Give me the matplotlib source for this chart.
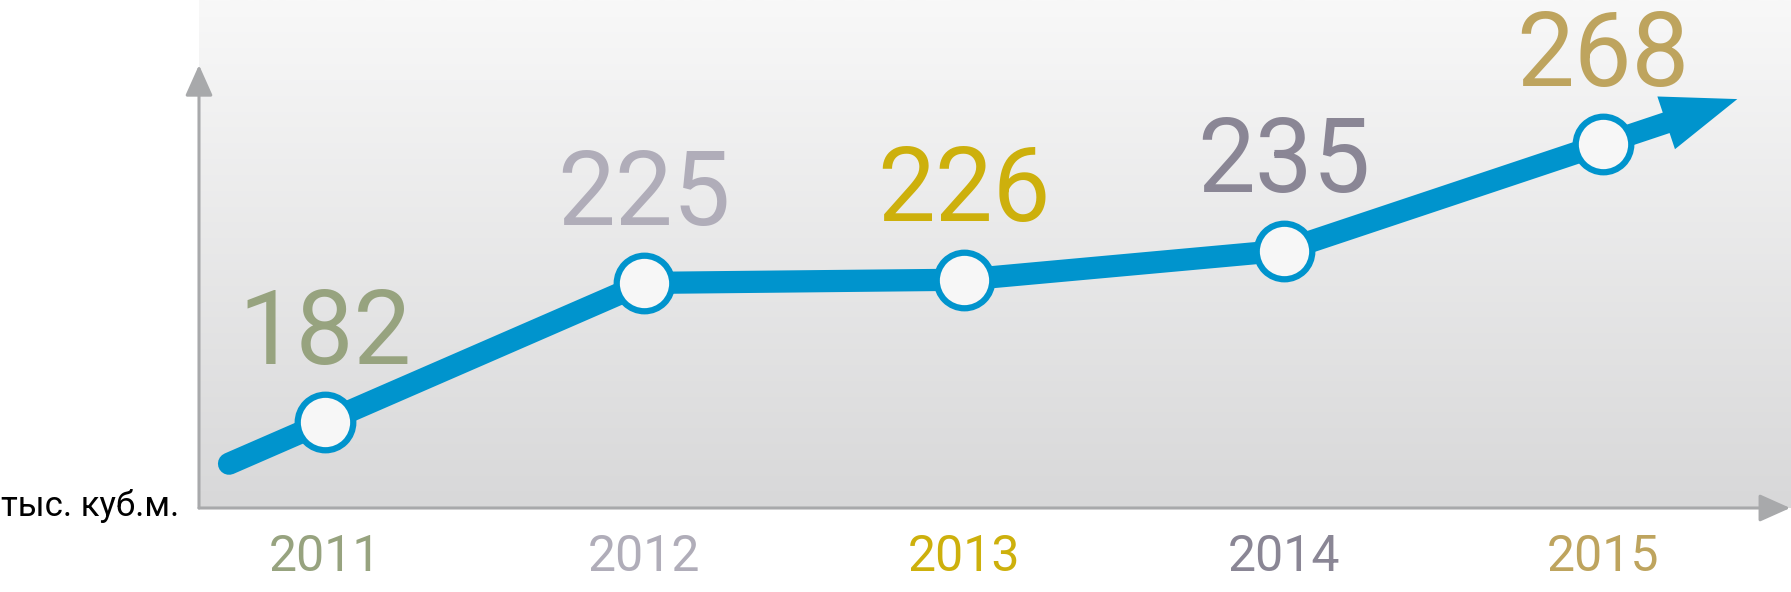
import numpy as np
import matplotlib
matplotlib.use('Agg')
import matplotlib.pyplot as plt
from matplotlib.colors import LinearSegmentedColormap
from matplotlib.patches import FancyArrowPatch

years = [2011, 2012, 2013, 2014, 2015]
volumes = [182, 225, 226, 235, 268]
year_labels = ['2011', '2012', '2013', '2014', '2015']
unit_label = 'тыс. куб.м.'

label_colors = ['#97a37f', '#b0adb9', '#cdb00c', '#8a8695', '#bea45e']
BLUE = '#0094cd'
AXIS_GRAY = '#a8a9ab'

plt.rcParams['font.family'] = ['Roboto', 'DejaVu Sans']

W, H, DPI = 1791, 592, 100
fig = plt.figure(figsize=(W / DPI, H / DPI), dpi=DPI)
fig.patch.set_facecolor('white')

# plot panel: from the y axis to the right edge, top of figure down to the x axis
ax = fig.add_axes([199 / W, 84 / H, 1592 / W, 508 / H])
for s in ax.spines.values():
    s.set_visible(False)

# soft grey gradient behind the chart
grad = np.linspace(0, 1, 256).reshape(-1, 1)
cmap = LinearSegmentedColormap.from_list('bg', ['#d8d8d9', '#f8f8f8'])
ax.imshow(grad, extent=[0, 1, 0, 1], transform=ax.transAxes, origin='lower',
          aspect='auto', cmap=cmap, zorder=0)

# line with a short lead-in before the first year
lead = 0.3
x0 = years[0] - lead
y0 = volumes[0] - lead * (volumes[1] - volumes[0])
ax.plot([x0] + years, [y0] + volumes, color=BLUE, lw=16,
        solid_capstyle='round', solid_joinstyle='round', zorder=3)

# arrow continuing past the last year
ext = 0.42
tip = (years[-1] + ext, volumes[-1] + ext * (volumes[-1] - volumes[-2]))
arrow = FancyArrowPatch((years[-1], volumes[-1]), tip,
                        arrowstyle='simple,head_length=54,head_width=40,tail_width=15.5',
                        mutation_scale=1, shrinkA=0, shrinkB=0,
                        color=BLUE, lw=0, zorder=3)
ax.add_patch(arrow)

ax.plot(years, volumes, 'o', ms=40, mfc='#f7f7f7', mec=BLUE, mew=4.5, zorder=5)

for x, v, c in zip(years, volumes, label_colors):
    ax.annotate(str(v), (x, v), xytext=(0, 42), textcoords='offset points',
                ha='center', va='baseline', fontsize=74, fontweight='normal',
                color=c, zorder=6)

ax.set_xlim(2010.606, 2015.588)
ax.set_ylim(155.4, 312.5)
ax.set_yticks([])
ax.set_xticks(years)
ax.set_xticklabels(year_labels, fontsize=36, fontweight='normal')
ax.tick_params(axis='x', length=0, pad=18)
for lab, c in zip(ax.get_xticklabels(), label_colors):
    lab.set_color(c)

# axis arrows
ax.annotate('', xy=(0, 0.872), xytext=(0, 0), xycoords='axes fraction',
            arrowprops=dict(arrowstyle='-|>,head_length=19,head_width=8.5',
                            mutation_scale=1, color=AXIS_GRAY, lw=2.2,
                            shrinkA=0, shrinkB=0), zorder=4)
ax.annotate('', xy=(0.9995, 0), xytext=(0, 0), xycoords='axes fraction',
            arrowprops=dict(arrowstyle='-|>,head_length=19,head_width=8.5',
                            mutation_scale=1, color=AXIS_GRAY, lw=2.2,
                            shrinkA=0, shrinkB=0), zorder=4)

fig.text(1 / W, 1 - 516 / H, unit_label, fontsize=25, color='black',
         ha='left', va='baseline')

fig.savefig('out.png', dpi=DPI)
